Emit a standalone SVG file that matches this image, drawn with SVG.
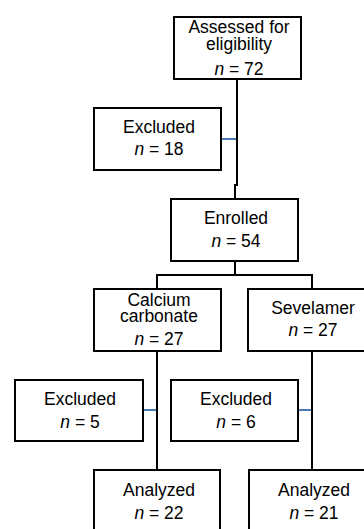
<svg xmlns="http://www.w3.org/2000/svg" width="364" height="529" viewBox="0 0 364 529">
<style>
.box{fill:#fff;stroke:#000;stroke-width:2}
.t{font-family:"Liberation Sans",Arial,sans-serif;font-size:17.5px;fill:#000;text-anchor:middle}
.i{font-style:italic}
.c{fill:none;stroke:#000;stroke-width:2}
.b{fill:none;stroke:#4a7ab4;stroke-width:2}
</style>
<rect width="364" height="529" fill="#fff"/>
<g id="connectors">
<polyline class="c" points="237,80 237,185 235,185 235,198"/>
<line class="b" x1="222" y1="139" x2="236" y2="139"/>
<polyline class="c" points="235,262 235,275"/>
<polyline class="c" points="157,288 157,275 312,275 312,288"/>
<line class="c" x1="157" y1="352" x2="157" y2="469"/>
<line class="c" x1="312" y1="352" x2="312" y2="469"/>
<line class="b" x1="144" y1="410" x2="156" y2="410"/>
<line class="b" x1="299" y1="410" x2="311" y2="410"/>
</g>
<g id="assessed">
<rect class="box" x="174" y="17" width="127" height="62"/>
<text class="t" x="239" y="32.5">Assessed for</text>
<text class="t" x="239" y="50">eligibility</text>
<text class="t" x="239" y="75"><tspan class="i">n</tspan> = 72</text>
</g>
<g id="excluded18">
<rect class="box" x="94" y="108" width="127" height="62"/>
<text class="t" x="159" y="132.5">Excluded</text>
<text class="t" x="159" y="155"><tspan class="i">n</tspan> = 18</text>
</g>
<g id="enrolled">
<rect class="box" x="171" y="199" width="127" height="62"/>
<text class="t" x="236" y="223.5">Enrolled</text>
<text class="t" x="236" y="246.5"><tspan class="i">n</tspan> = 54</text>
</g>
<g id="calcium">
<rect class="box" x="94" y="289" width="127" height="62"/>
<text class="t" x="159" y="305.5">Calcium</text>
<text class="t" x="159" y="322">carbonate</text>
<text class="t" x="159" y="345"><tspan class="i">n</tspan> = 27</text>
</g>
<g id="sevelamer">
<rect class="box" x="248" y="289" width="127" height="62"/>
<text class="t" x="313" y="314">Sevelamer</text>
<text class="t" x="313" y="336"><tspan class="i">n</tspan> = 27</text>
</g>
<g id="excluded5">
<rect class="box" x="15" y="380" width="128" height="61"/>
<text class="t" x="80" y="404.5">Excluded</text>
<text class="t" x="80" y="427.5"><tspan class="i">n</tspan> = 5</text>
</g>
<g id="excluded6">
<rect class="box" x="171" y="380" width="127" height="61"/>
<text class="t" x="236" y="404.5">Excluded</text>
<text class="t" x="236" y="427.5"><tspan class="i">n</tspan> = 6</text>
</g>
<g id="analyzed22">
<rect class="box" x="94" y="470" width="126" height="62"/>
<text class="t" x="159" y="496">Analyzed</text>
<text class="t" x="159" y="519"><tspan class="i">n</tspan> = 22</text>
</g>
<g id="analyzed21">
<rect class="box" x="249" y="470" width="126" height="62"/>
<text class="t" x="314" y="496">Analyzed</text>
<text class="t" x="314" y="519"><tspan class="i">n</tspan> = 21</text>
</g>
</svg>
